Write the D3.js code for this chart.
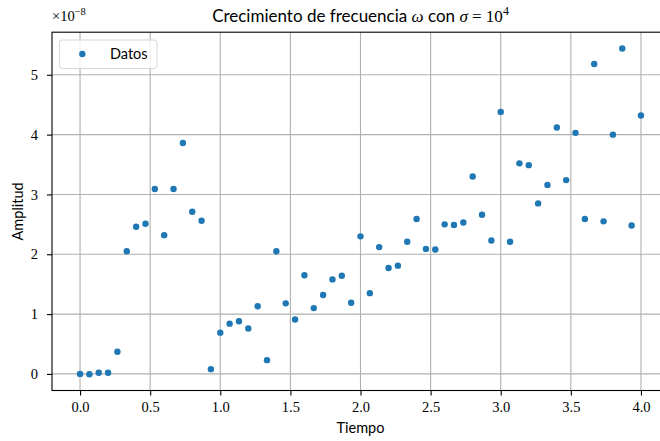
<!DOCTYPE html>
<html>
<head>
<meta charset="utf-8">
<script src="https://cdn.jsdelivr.net/npm/d3@7"></script>
<style>
  html, body { margin: 0; padding: 0; background: #fff; }
  svg { display: block; }
  .sans { font-family: Lato, "Open Sans", sans-serif; }
  .serif { font-family: "Liberation Serif", "DejaVu Serif", serif; }
</style>
</head>
<body>
<svg id="chart" width="660" height="441"></svg>
<script>
// Sample times (s) and measured amplitude (in units of 1e-8)
const tiempo = d3.range(61).map(i => i / 15);
const amplitud = [
  0.00, -0.005, 0.02, 0.02, 0.37, 2.05, 2.46, 2.51, 3.09, 2.32,
  3.09, 3.86, 2.71, 2.56, 0.08, 0.69, 0.84, 0.88, 0.76, 1.13,
  0.23, 2.05, 1.18, 0.91, 1.65, 1.10, 1.32, 1.58, 1.64, 1.19,
  2.30, 1.35, 2.12, 1.77, 1.81, 2.21, 2.59, 2.09, 2.08, 2.50,
  2.49, 2.53, 3.30, 2.66, 2.23, 4.38, 2.21, 3.52, 3.49, 2.85,
  3.16, 4.12, 3.24, 4.03, 2.59, 5.18, 2.55, 4.00, 5.44, 2.48,
  4.32
];
const xTicks = [0, 0.5, 1, 1.5, 2, 2.5, 3, 3.5, 4];
const yTicks = [0, 1, 2, 3, 4, 5];
const seriesName = "Datos";

const svg = d3.select("#chart");
const box = { left: 52, right: 669, top: 32.2, bottom: 390.5 };

// Axis limits with a 5% margin around the data
function padded(ext) {
  const p = (ext[1] - ext[0]) * 0.05;
  return [ext[0] - p, ext[1] + p];
}
const x = d3.scaleLinear().domain(padded(d3.extent(tiempo))).range([box.left, box.right]);
const y = d3.scaleLinear().domain(padded(d3.extent(amplitud))).range([box.bottom, box.top]);

// Grid
const grid = svg.append("g");
grid.selectAll("line.gx").data(xTicks).join("line")
  .attr("x1", d => x(d)).attr("x2", d => x(d))
  .attr("y1", box.top).attr("y2", box.bottom)
  .attr("stroke", "#b0b0b0").attr("stroke-width", 1.1);
grid.selectAll("line.gy").data(yTicks).join("line")
  .attr("y1", d => y(d)).attr("y2", d => y(d))
  .attr("x1", box.left).attr("x2", box.right)
  .attr("stroke", "#b0b0b0").attr("stroke-width", 1.1);

// Points
svg.append("g").selectAll("circle").data(tiempo).join("circle")
  .attr("cx", d => x(d))
  .attr("cy", (d, i) => y(amplitud[i]))
  .attr("r", 3.2)
  .attr("fill", "#1f77b4");

// Axes
const xAxis = svg.append("g")
  .attr("transform", `translate(0,${box.bottom})`)
  .call(d3.axisBottom(x).tickValues(xTicks).tickFormat(d3.format(".1f")).tickSize(5).tickPadding(6));
const yAxis = svg.append("g")
  .attr("transform", `translate(${box.left},0)`)
  .call(d3.axisLeft(y).tickValues(yTicks).tickFormat(d3.format("d")).tickSize(5).tickPadding(9));
[xAxis, yAxis].forEach(a => {
  a.select(".domain").remove();
  a.selectAll(".tick line").attr("stroke", "#000").attr("stroke-width", 1.1);
  a.selectAll(".tick text").attr("class", "serif").attr("font-size", 14.5).attr("fill", "#000");
});

// Spines
svg.append("rect")
  .attr("x", box.left).attr("y", box.top)
  .attr("width", box.right - box.left).attr("height", box.bottom - box.top)
  .attr("fill", "none").attr("stroke", "#000").attr("stroke-width", 1.1);

// Offset label ×10^-8
const off = svg.append("text").attr("class", "serif").attr("x", 52).attr("y", 21).attr("font-size", 14.5);
off.append("tspan").text("×10");
off.append("tspan").attr("dy", -6).attr("font-size", 10.5).text("−8");

// Title
const cx = (box.left + box.right) / 2;
const title = svg.append("text").attr("x", cx).attr("y", 22).attr("text-anchor", "middle").attr("font-size", 17);
title.append("tspan").attr("class", "sans").text("Crecimiento de frecuencia ");
title.append("tspan").attr("class", "serif").attr("font-style", "italic").text("ω");
title.append("tspan").attr("class", "sans").text(" con ");
title.append("tspan").attr("class", "serif").attr("font-style", "italic").text("σ");
title.append("tspan").attr("class", "serif").text(" = 10");
title.append("tspan").attr("class", "serif").attr("dy", -7).attr("font-size", 12).text("4");

// Axis labels
svg.append("text").attr("class", "sans").attr("x", cx).attr("y", 433)
  .attr("text-anchor", "middle").attr("font-size", 14.5).text("Tiempo");
svg.append("text").attr("class", "sans")
  .attr("transform", `translate(23,${(box.top + box.bottom) / 2}) rotate(-90)`)
  .attr("text-anchor", "middle").attr("font-size", 14.5).text("Amplitud");

// Legend
const lg = svg.append("g");
lg.append("rect").attr("x", 59.5).attr("y", 40).attr("width", 97.5).attr("height", 28.5)
  .attr("rx", 3).attr("fill", "#fff").attr("fill-opacity", 0.8)
  .attr("stroke", "#d6d6d6").attr("stroke-width", 1);
lg.append("circle").attr("cx", 82.3).attr("cy", 54).attr("r", 3.2).attr("fill", "#1f77b4");
lg.append("text").attr("class", "sans").attr("x", 110).attr("y", 59).attr("font-size", 14.5).text(seriesName);
</script>
</body>
</html>
